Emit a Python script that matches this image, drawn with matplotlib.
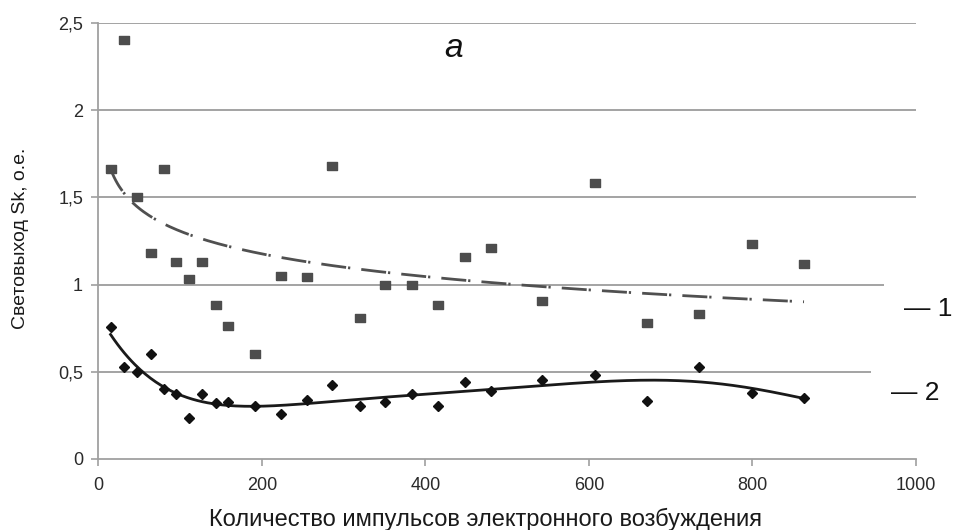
import numpy as np
import matplotlib
matplotlib.use("Agg")
import matplotlib.pyplot as plt
from matplotlib.ticker import FixedLocator

plt.rcParams['font.family'] = ['Liberation Sans', 'DejaVu Sans']

# Number of electron-excitation pulses
pulses = [15, 31, 47, 64, 80, 95, 111, 127, 144, 159, 192, 223, 255, 286,
          320, 351, 384, 415, 448, 480, 543, 607, 671, 735, 799, 863]
# Light yield, series 1 (squares)
yield_1 = [1.66, 2.40, 1.50, 1.18, 1.66, 1.13, 1.03, 1.13, 0.88, 0.76, 0.60,
           1.05, 1.045, 1.68, 0.81, 1.00, 1.00, 0.88, 1.155, 1.21, 0.905,
           1.58, 0.78, 0.83, 1.23, 1.12]
# Light yield, series 2 (diamonds)
yield_2 = [0.754, 0.529, 0.498, 0.601, 0.403, 0.374, 0.235, 0.374, 0.319,
           0.328, 0.302, 0.256, 0.336, 0.422, 0.304, 0.328, 0.372, 0.304,
           0.443, 0.389, 0.452, 0.481, 0.334, 0.529, 0.380, 0.349]

y_ticks = [0, 0.5, 1, 1.5, 2, 2.5]
y_tick_labels = ["0", "0,5", "1", "1,5", "2", "2,5"]
x_ticks = [0, 200, 400, 600, 800, 1000]
x_tick_labels = ["0", "200", "400", "600", "800", "1000"]

x = np.array(pulses, dtype=float)
y1 = np.array(yield_1)
y2 = np.array(yield_2)

W, H = 961, 530
fig = plt.figure(figsize=(W / 100, H / 100), dpi=100)
ax = fig.add_axes([0.1023, 0.134, 0.8509, 0.823])

# horizontal grid
for yv in y_ticks[1:]:
    ax.axhline(yv, color='#8a8a8a', lw=1.1, zorder=0)

# trend lines: logarithmic for series 1, 6th-order polynomial for series 2
xs = np.linspace(x.min(), x.max(), 400)
b, a = np.polyfit(np.log(x), y1, 1)
ax.plot(xs, a + b * np.log(xs), color='#505050', lw=2.0,
        linestyle=(0, (9, 0.7, 0.8, 4)), zorder=2)
poly = np.polynomial.Polynomial.fit(x, y2, 6)
ax.plot(xs, poly(xs), color='#1a1a1a', lw=2.0, zorder=2)

rect = [(-1.2, -1), (1.2, -1), (1.2, 1), (-1.2, 1), (-1.2, -1)]
ax.plot(x, y1, linestyle='none', marker=rect, markersize=7.4,
        color='#4d4d4d', zorder=3)
ax.plot(x, y2, linestyle='none', marker='D', markersize=5.2,
        color='#111111', zorder=3)

ax.set_xlim(0, 1000)
ax.set_ylim(0, 2.5)
ax.xaxis.set_major_locator(FixedLocator(x_ticks))
ax.yaxis.set_major_locator(FixedLocator(y_ticks))
ax.set_xticklabels(x_tick_labels)
ax.set_yticklabels(y_tick_labels)

for s in ('top', 'right'):
    ax.spines[s].set_visible(False)
for s in ('left', 'bottom'):
    ax.spines[s].set_color('#a0a0a0')
    ax.spines[s].set_linewidth(1.3)
ax.tick_params(axis='both', colors='#a0a0a0', labelcolor='#2a2a2a',
               labelsize=13, direction='out', length=5, width=1.2)
ax.tick_params(axis='x', pad=8)
ax.tick_params(axis='y', pad=6)

fig.text(485 / W, 1 - 519 / H,
         "Количество импульсов электронного возбуждения",
         fontsize=17, color='#1a1a1a', ha='center', va='center')
fig.text(21 / W, 1 - 238 / H, "Световыход Sk, о.е.", fontsize=14,
         color='#1a1a1a', rotation=90, ha='center', va='center')

ax.text(0.435, 0.94, "a", transform=ax.transAxes, fontsize=24,
        style='italic', ha='center', va='center', color='#111')

box = dict(boxstyle='square,pad=0.75', facecolor='white', edgecolor='none')
ax.text(1015, 0.86, "— 1", fontsize=19,
        ha='center', va='center', color='#111', bbox=box, clip_on=False,
        zorder=4)
ax.text(999, 0.38, "— 2", fontsize=19,
        ha='center', va='center', color='#111', bbox=box, clip_on=False,
        zorder=4)

fig.savefig("out.png", dpi=100)
